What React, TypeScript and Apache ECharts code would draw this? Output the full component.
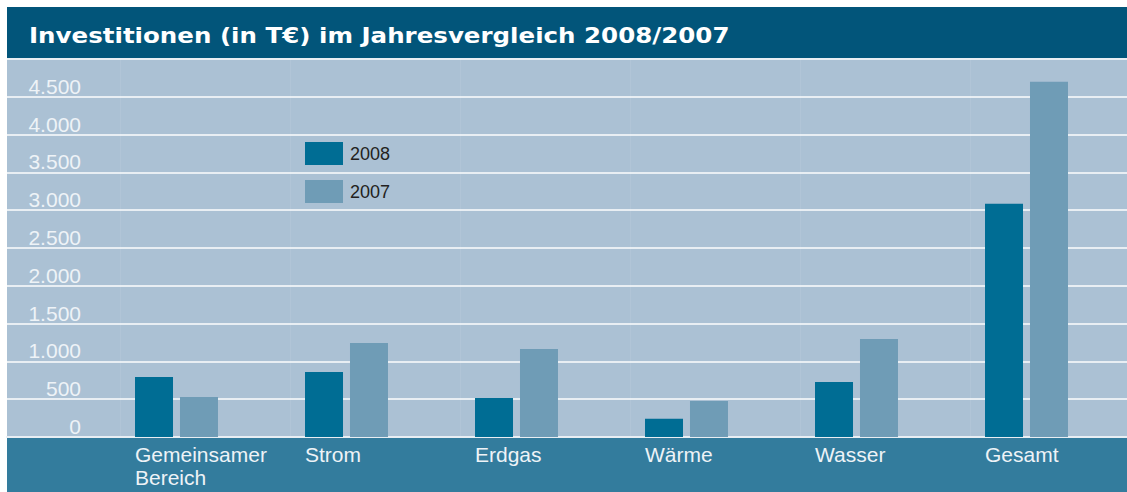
import React, { useEffect, useRef } from "react";
import * as echarts from "echarts";

const categories = ["Gemeinsamer\nBereich", "Strom", "Erdgas", "Wärme", "Wasser", "Gesamt"];
const values2008 = [795, 860, 515, 240, 728, 3085];
const values2007 = [530, 1245, 1165, 476, 1297, 4700];
const seriesNames = ["2008", "2007"];
const titleText = "Investitionen (in T€) im Jahresvergleich 2008/2007";

const W = 1127;
const H = 492;
const FONT = "'Liberation Sans', Arial, Helvetica, sans-serif";
const TITLE_FONT = "'DejaVu Sans', 'Liberation Sans', sans-serif";

export default function App() {
  const ref = useRef<HTMLDivElement>(null);
  useEffect(() => {
    if (!ref.current) return;
    const chart = echarts.init(ref.current, undefined, { renderer: "svg" });
    const top = 59;
    const bottom = 55;
    const titleFont = `bold 22px ${TITLE_FONT}`;
    const tw = (echarts as any).format && (echarts as any).format.getTextRect
      ? (echarts as any).format.getTextRect(titleText, titleFont).width
      : 610;
    const sx = 701 / (tw || 610);
    chart.setOption({
      animation: false,
      backgroundColor: "#ffffff",
      textStyle: { fontFamily: FONT },
      graphic: [
        { type: "rect", z: -10, shape: { x: 7, y: 7, width: W - 7, height: 52 }, style: { fill: "#02557a" } },
        { type: "rect", z: -10, shape: { x: 7, y: 59, width: W - 7, height: 378 }, style: { fill: "#abc1d4" } },
        { type: "rect", z: -10, shape: { x: 7, y: 437, width: W - 7, height: 55 }, style: { fill: "#337c9d" } },
        {
          type: "text",
          x: 29,
          y: 24,
          scaleX: sx,
          z: 10,
          style: { text: titleText, fill: "#ffffff", font: titleFont, verticalAlign: "top" },
        },
      ],
      legend: {
        orient: "vertical",
        left: 305,
        top: 142,
        padding: 0,
        itemWidth: 38,
        itemHeight: 23,
        itemGap: 15,
        icon: "rect",
        textStyle: { color: "#231f20", fontSize: 18, fontFamily: FONT, padding: [0, 0, 0, 2] },
        data: seriesNames,
      },
      grid: [
        { left: 7, right: 0, top, bottom },
        { left: 91.5, right: 15.5, top, bottom },
        { left: 50, right: 57, top, bottom },
        { left: 120, right: 157, top, bottom },
      ],
      xAxis: [
        {
          gridIndex: 0,
          type: "category",
          data: ["a"],
          axisLine: { show: true, lineStyle: { color: "#e8eef3", width: 2 } },
          axisTick: { show: false },
          axisLabel: { show: false },
        },
        {
          gridIndex: 1,
          type: "category",
          data: categories,
          axisLine: { show: false },
          axisTick: { show: false },
          axisLabel: { show: false },
        },
        {
          gridIndex: 2,
          type: "category",
          data: categories,
          axisLine: { show: false },
          axisTick: { show: false },
          axisLabel: {
            show: true,
            interval: 0,
            align: "left",
            verticalAlign: "top",
            margin: 6,
            color: "#eef3f7",
            fontSize: 21,
            lineHeight: 23,
            fontFamily: FONT,
          },
        },
        {
          gridIndex: 3,
          type: "category",
          data: ["", "", "", "", ""],
          axisLine: { show: false },
          axisTick: { show: false },
          axisLabel: { show: false },
          splitLine: { show: true, lineStyle: { color: "rgba(255,255,255,0.08)", width: 1 } },
        },
      ],
      yAxis: [
        {
          gridIndex: 0,
          type: "value",
          min: 0,
          max: 5000,
          interval: 500,
          axisLine: { show: false },
          axisTick: { show: false },
          axisLabel: { show: false },
          splitLine: { show: true, lineStyle: { color: "#e8eef3", width: 2 } },
        },
        {
          gridIndex: 1,
          type: "value",
          min: 0,
          max: 5000,
          interval: 500,
          axisLine: { show: false },
          axisTick: { show: false },
          splitLine: { show: false },
          axisLabel: {
            show: true,
            margin: 10.5,
            align: "right",
            verticalAlign: "bottom",
            color: "#eef3f7",
            fontSize: 21,
            fontFamily: FONT,
            formatter: (v: number) => (v >= 5000 ? "" : v.toLocaleString("de-DE")),
          },
        },
        { gridIndex: 2, type: "value", min: 0, max: 5000, show: false },
        { gridIndex: 3, type: "value", min: 0, max: 5000, show: false },
      ],
      series: [
        {
          name: seriesNames[0],
          type: "bar",
          xAxisIndex: 1,
          yAxisIndex: 1,
          data: values2008,
          barWidth: 38,
          barGap: "18.4%",
          itemStyle: { color: "#006d94" },
          z: 5,
        },
        {
          name: seriesNames[1],
          type: "bar",
          xAxisIndex: 1,
          yAxisIndex: 1,
          data: values2007,
          barWidth: 38,
          barGap: "18.4%",
          itemStyle: { color: "#6f9cb6" },
          z: 5,
        },
      ],
    });
    return () => chart.dispose();
  }, []);
  return (
    <div
      ref={ref}
      style={{ position: "fixed", left: 0, top: 0, width: W, height: H }}
    />
  );
}
